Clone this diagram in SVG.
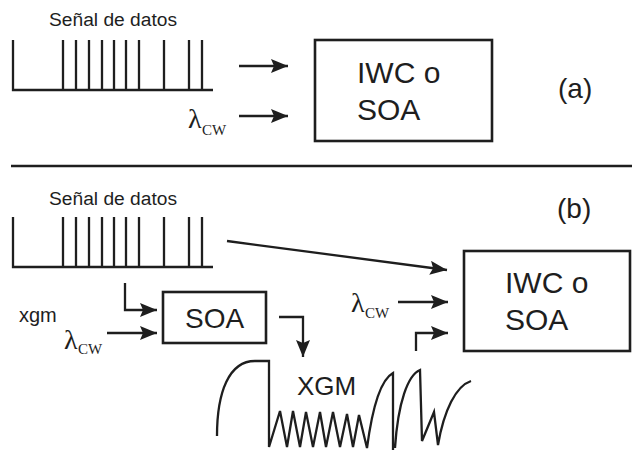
<svg xmlns="http://www.w3.org/2000/svg" width="632" height="450" viewBox="0 0 632 450">
<style>
.ln{fill:none;stroke:#1e1e1e;stroke-width:2.3;stroke-linejoin:miter}
.box{fill:#fff;stroke:#1e1e1e;stroke-width:2.6}
.sans{font-family:"Liberation Sans",Arial,sans-serif;fill:#1e1e1e}
.serif{font-family:"Liberation Serif","Times New Roman",serif;fill:#1e1e1e}
.arr{fill:none;stroke:#1e1e1e;stroke-width:2.3;marker-end:url(#ah)}
</style>
<defs>
<marker id="ah" markerUnits="userSpaceOnUse" markerWidth="18" markerHeight="14" refX="17" refY="7" orient="auto">
<path d="M0,0 L17,7 L0,14 L3,7 z" fill="#1e1e1e"/>
</marker>
<path id="pulses" class="ln" d="M13,40 V90 H213 M63,40 V90 M76,40 V90 M89,40 V90 M102,40 V90 M114,40 V90 M126,40 V90 M139,40 V90 M164,40 V90 M189,40 V90 M202,40 V90"/>
</defs>

<g id="signal-a">
<text class="sans" x="49" y="26" font-size="18" textLength="128" lengthAdjust="spacingAndGlyphs">Señal de datos</text>
<use href="#pulses"/>
</g>
<g id="lambda-a">
<text class="serif" x="188" y="128" font-size="28">λ</text>
<text class="serif" x="202" y="135" font-size="15">CW</text>
</g>
<g id="box-a">
<rect class="box" x="315" y="40" width="177" height="101"/>
<text class="sans" x="357" y="83" font-size="30">IWC o</text>
<text class="sans" x="357" y="120" font-size="30">SOA</text>
</g>
<g id="label-a">
<text class="sans" x="558" y="98" font-size="28">(a)</text>
</g>

<g id="separator">
<line x1="11" y1="166" x2="632" y2="166" stroke="#1e1e1e" stroke-width="2.5"/>
</g>

<g id="signal-b">
<text class="sans" x="49" y="205" font-size="18" textLength="128" lengthAdjust="spacingAndGlyphs">Señal de datos</text>
<use href="#pulses" transform="translate(0,177)"/>
</g>
<g id="label-b">
<text class="sans" x="557" y="218" font-size="28">(b)</text>
</g>
<g id="xgm-label">
<text class="sans" x="19" y="322" font-size="20">xgm</text>
</g>
<g id="lambda-b1">
<text class="serif" x="64" y="349" font-size="28">λ</text>
<text class="serif" x="78" y="354" font-size="15">CW</text>
</g>
<g id="soa">
<rect class="box" x="163" y="292" width="103" height="51"/>
<text class="sans" x="185" y="328" font-size="28">SOA</text>
</g>
<g id="lambda-b2">
<text class="serif" x="351" y="312" font-size="28">λ</text>
<text class="serif" x="365" y="318" font-size="15">CW</text>
</g>
<g id="box-b">
<rect class="box" x="464" y="251" width="166" height="100"/>
<text class="sans" x="505" y="293" font-size="30">IWC o</text>
<text class="sans" x="505" y="330" font-size="30">SOA</text>
</g>
<g id="xgm-wave">
<path class="ln" d="M217,436 C217,392 229,361 255,361 L269,361 L269,447 L280,411 L287,447 L293,411 L300,447 L306,412 L313,447 L320,412 L326,447 L333,412 L340,447 L347,414 L353,447 L359,415 L367,448 C372,410 380,380 393,373 L393,450 M395,448 C398,402 408,375 420,370 L422,441 L434,412 L438,445 C444,410 456,386 471,381"/>
<text class="sans" x="297" y="395" font-size="26">XGM</text>
</g>

<g id="connectors">
<line class="arr" x1="239" y1="66" x2="288" y2="66"/>
<line class="arr" x1="239" y1="116" x2="288" y2="116"/>
<line class="arr" x1="227" y1="241" x2="447" y2="270"/>
<line class="arr" x1="398" y1="302" x2="448" y2="302"/>
<path class="arr" d="M416,351 V333 H448"/>
<path class="arr" d="M125,283 V310 H157"/>
<line class="arr" x1="107" y1="333" x2="157" y2="333"/>
<path class="arr" d="M279,317 H303 V357"/>
</g>
</svg>
